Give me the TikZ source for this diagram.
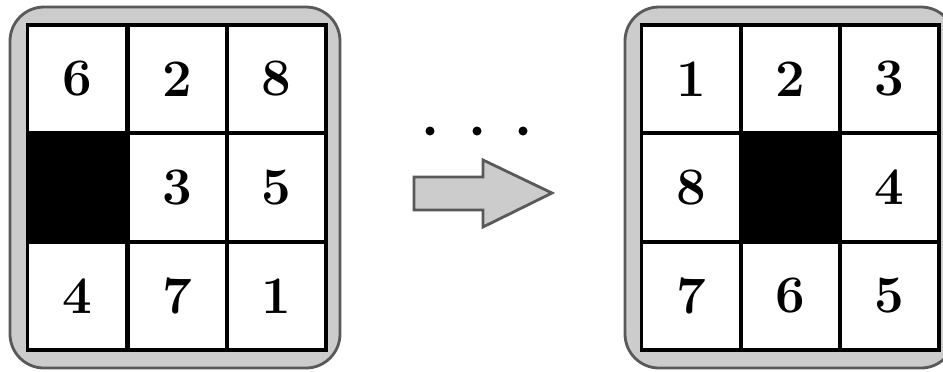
\documentclass[tikz,border=0pt]{standalone}
\begin{document}
\begin{tikzpicture}[x=0.1mm,y=-0.1mm,
  cell/.style={draw,fill=white,line width=1pt,minimum width=9.93mm,minimum height=10.83mm,inner sep=0pt,
    font=\fontsize{15}{18}\selectfont\bfseries},
  hole/.style={cell,fill=black},
  board/.style={draw=black!65,line width=0.8pt,fill=black!20,rounded corners=3.4mm}]
\clip (0,0) rectangle (943,371);
% start state
\draw[board] (10,7) rectangle (340,368);
\node[cell] (s11) at (77,79) {6};
\node[cell] (s12) at (177.5,79) {2};
\node[cell] (s13) at (276.5,79) {8};
\node[hole] (s21) at (77,187.5) {};
\node[cell] (s22) at (177.5,187.5) {3};
\node[cell] (s23) at (276.5,187.5) {5};
\node[cell] (s31) at (77,296) {4};
\node[cell] (s32) at (177.5,296) {7};
\node[cell] (s33) at (276.5,296) {1};
% dots and arrow
\fill (430,131) circle (4.5);
\fill (477,131) circle (4.5);
\fill (523,131) circle (4.5);
\draw[draw=black!65,line width=0.8pt,fill=black!20]
  (414,177) -- (483,177) -- (483,160) -- (552,193) -- (483,227) -- (483,210) -- (414,210) -- cycle;
% goal state
\draw[board] (625,7) rectangle (955,368);
\node[cell] (g11) at (691,79) {1};
\node[cell] (g12) at (790.5,79) {2};
\node[cell] (g13) at (889.5,79) {3};
\node[cell] (g21) at (691,187.5) {8};
\node[hole] (g22) at (790.5,187.5) {};
\node[cell] (g23) at (889.5,187.5) {4};
\node[cell] (g31) at (691,296) {7};
\node[cell] (g32) at (790.5,296) {6};
\node[cell] (g33) at (889.5,296) {5};
\end{tikzpicture}
\end{document}
